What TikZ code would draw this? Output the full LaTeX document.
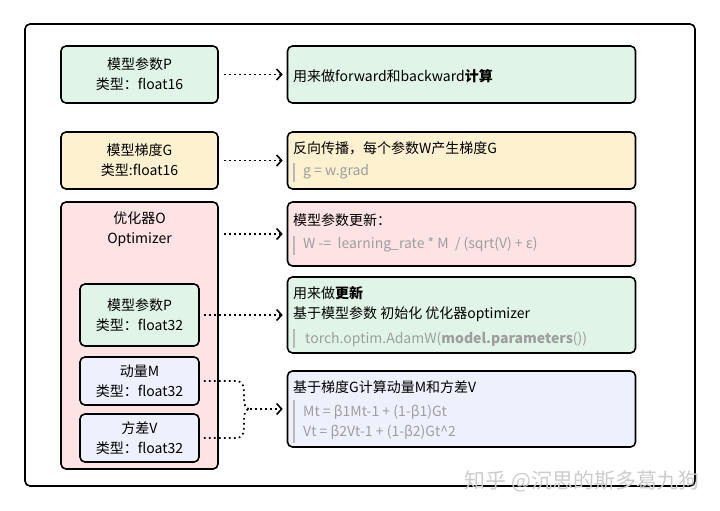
\documentclass[tikz,border=0pt]{standalone}
\usepackage{fontspec}
\setmainfont{Noto Sans CJK SC}
\usepackage{tikz}
\usetikzlibrary{arrows.meta}
\definecolor{paramgreen}{HTML}{E0F5E8}
\definecolor{gradyellow}{HTML}{FDF1D0}
\definecolor{optpink}{HTML}{FDE3E3}
\definecolor{statelav}{HTML}{EEF1FD}
\definecolor{codegray}{HTML}{9E9E9E}
\definecolor{bargray}{HTML}{B8B8B8}
\tikzset{
  box/.style={draw=black, line width=1.6pt, rounded corners=5pt, inner sep=0pt, align=center},
  flow/.style={line width=1.7pt, dash pattern=on 1.7pt off 3.3pt,
    -{Straight Barb[length=5pt,width=11pt,line width=1.6pt]}},
  link/.style={line width=1.7pt, dash pattern=on 1.7pt off 3.3pt},
  note/.style={anchor=west, inner sep=0pt},
  code/.style={note, text=codegray},
  codebar/.style={draw=bargray, line width=1.5pt},
}

\begin{document}
\begin{tikzpicture}[x=1pt,y=-1pt,font=\fontsize{14}{20}\selectfont]
  \useasboundingbox (0,0) rectangle (720,511);
  % outer frame
  \draw[line width=1.6pt, rounded corners=5pt] (25,24) rectangle (695,486);

  % left column
  \node[box, fill=paramgreen, minimum width=157, minimum height=57] (p16) at (139.5,74.5) {模型参数P\\类型：float16};
  \node[box, fill=gradyellow, minimum width=157, minimum height=57] (g16) at (139.5,160.5) {模型梯度G\\类型:float16};
  \node[box, fill=optpink, minimum width=157, minimum height=267] (opt) at (139.5,335.5) {};
  \node[align=center, inner sep=0pt] (optname) at (139.5,229) {优化器O\\Optimizer};
  \node[box, fill=paramgreen, minimum width=119, minimum height=62] (p32) at (139.5,315) {模型参数P\\类型：float32};
  \node[box, fill=statelav, minimum width=119, minimum height=48] (mom) at (139.5,381) {动量M\\类型：float32};
  \node[box, fill=statelav, minimum width=119, minimum height=48] (var) at (139.5,438) {方差V\\类型：float32};

  % right column
  \node[box, fill=paramgreen, minimum width=348, minimum height=57] (use) at (461.5,74.5) {};
  \node[box, fill=gradyellow, minimum width=348, minimum height=57] (back) at (461.5,160.5) {};
  \node[box, fill=optpink, minimum width=348, minimum height=64] (upd) at (461.5,234) {};
  \node[box, fill=paramgreen, minimum width=348, minimum height=76] (init) at (461.5,315) {};
  \node[box, fill=statelav, minimum width=348, minimum height=76] (adam) at (461.5,409) {};

  \node[note] at (293,76) {用来做forward和backward\textbf{计算}};
  \node[note] at (293,148) {反向传播，每个参数W产生梯度G};
  \draw[codebar] (294,163) -- (294,182);
  \node[code] at (303,172) {g = w.grad};
  \node[note] at (293,220) {模型参数更新：};
  \draw[codebar] (294,236) -- (294,255);
  \node[code] at (303,245) {W -=\ \ learning\_rate * M\ \ / (sqrt(V) + ε)};
  \node[note] at (293,293) {用来做\textbf{更新}};
  \node[note] at (293,314) {基于模型参数 初始化 优化器optimizer};
  \draw[codebar] (294,329) -- (294,348);
  \node[code] at (305,339) {torch.optim.AdamW(\textbf{model.parameters}())};
  \node[note] at (293,387) {基于梯度G计算动量M和方差V};
  \draw[codebar] (294,400) -- (294,443);
  \node[code] at (303,412) {Mt = β1Mt-1 + (1-β1)Gt};
  \node[code] at (303,432) {Vt = β2Vt-1 + (1-β2)Gt\textasciicircum 2};

  % connectors
  \draw[flow] ([xshift=5pt]p16.east) -- ([xshift=-4pt]use.west);
  \draw[flow] ([xshift=5pt]g16.east) -- ([xshift=-4pt]back.west);
  \draw[flow] ([xshift=5pt]opt.east |- upd.west) -- ([xshift=-4pt]upd.west);
  \draw[flow] ([xshift=4pt]p32.east) -- ([xshift=-4pt]init.west);
  \coordinate (merge) at (250,409);
  \draw[link] ([xshift=4pt]mom.east) -- (236,381)
    .. controls (244,381) and (244,388) .. (244,396)
    .. controls (244,405) and (245,409) .. (merge);
  \draw[link] ([xshift=4pt]var.east) -- (236,438)
    .. controls (244,438) and (244,431) .. (244,423)
    .. controls (244,413) and (245,409) .. (merge);
  \draw[flow] (merge) -- ([xshift=-4pt]adam.west);

  % watermark
  \node[text=gray!40, font=\fontsize{21}{24}\selectfont, inner sep=0pt] (mark) at (582,481) {知乎 @沉思的斯多葛九狗};
\end{tikzpicture}
\end{document}
